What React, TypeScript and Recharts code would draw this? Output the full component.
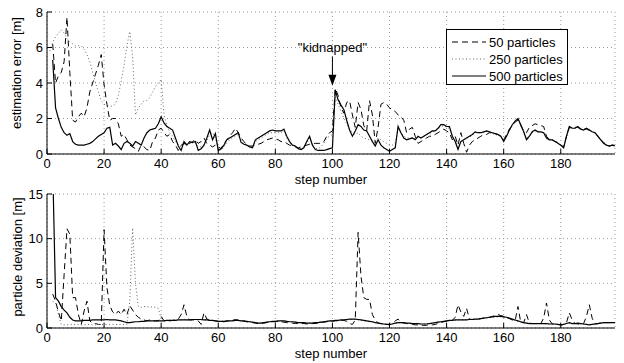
import { CartesianGrid, Label, Line, LineChart, ReferenceDot, XAxis, YAxis } from "recharts";

// x axis: step number 0..199 (steps 0/1 have no value)
const STEPS = Array.from({ length: 200 }, (_, i) => i);
const X_TICKS = [0, 20, 40, 60, 80, 100, 120, 140, 160, 180];
const ERR_TICKS = [0, 2, 4, 6, 8];
const DEV_TICKS = [0, 5, 10, 15];

// estimation error [m], 50 particles
const err50 = [
  null, null, 6.2, 4.0, 4.4, 4.6, 5.2, 7.7, 4.6, 1.9,
  1.8, 2.1, 2.3, 2.1, 2.6, 3.5, 4.0, 4.5, 5.0, 5.6,
  3.9, 2.8, 1.9, 2.0, 2.0, 1.7, 1.0, 1.1, 0.8, 0.5,
  0.4, 0.3, 0.15, 0.5, 0.4, 0.25, 0.2, 0.7, 0.9, 1.35,
  1.45, 1.2, 1.0, 1.1, 0.7, 0.5, 0.2, 0.5, 0.6, 0.5,
  0.6, 0.7, 0.8, 0.6, 0.7, 0.9, 0.6, 0.5, 0.4, 0.5,
  0.4, 0.3, 0.6, 0.8, 1.0, 1.2, 1.45, 1.2, 0.9, 0.7,
  0.5, 0.45, 0.45, 0.5, 0.55, 0.6, 0.7, 0.8, 0.85, 0.9,
  0.85, 0.8, 0.7, 0.7, 0.6, 0.5, 0.45, 0.4, 0.35, 0.4,
  0.45, 0.5, 0.55, 0.55, 0.6, 0.6, 0.6, 0.7, 1.0, 1.2,
  1.3, 3.7, 3.3, 2.6, 2.3, 2.9, 3.0, 2.2, 1.5, 2.9,
  2.5, 1.6, 1.3, 3.0, 2.2, 0.6, 1.5, 2.8, 2.9, 2.8,
  2.6, 2.5, 2.4, 2.2, 2.1, 1.9, 1.2, 1.4, 1.5, 1.0,
  0.6, 0.7, 0.8, 0.9, 1.0, 1.0, 1.1, 1.2, 1.3, 1.4,
  1.3, 1.2, 0.8, 1.0, 0.5, 1.2, 0.6, 0.1, 0.5, 0.7,
  0.8, 0.9, 1.0, 1.1, 1.1, 1.2, 1.2, 1.15, 1.1, 1.0,
  0.8, 1.1, 1.4, 1.6, 1.8, 1.9, 1.6, 1.3, 1.2, 1.5,
  1.6, 1.7, 1.65, 1.6, 1.55, 1.0, 0.8, 0.8, 0.7, 0.65,
  0.5, 0.4, 1.0, 1.5, 1.45, 1.5, 1.5, 1.4, 1.4, 1.4,
  1.35, 1.3, 1.2, 1.0, 0.8, 0.65, 0.55, 0.45, 0.5, 0.5,
];

// estimation error [m], 250 particles
const err250 = [
  null, 5.8, 6.3, 6.6, 6.8, 7.0, 6.8, 6.5, 6.3, 6.2,
  6.1, 6.1, 6.1, 5.9, 5.6, 5.2, 4.6, 4.0, 3.5, 3.0,
  2.8, 2.75, 2.7, 2.7, 2.85, 3.3, 4.1, 5.0, 6.1, 6.9,
  5.5, 2.2, 2.6, 2.8, 3.0, 3.0, 3.2, 3.5, 3.8, 4.0,
  4.2, 2.2, 1.6, 1.2, 1.0, 0.7, 0.5, 0.4, 0.6, 0.6,
  0.7, 0.6, 0.6, 0.4, 0.4, 0.5, 0.7, 1.1, 1.2, 0.9,
  0.3, 0.2, 0.4, 0.6, 0.8, 0.9, 1.0, 1.1, 0.7, 0.6,
  0.5, 0.45, 0.4, 0.7, 0.8, 0.9, 1.0, 1.1, 1.2, 1.2,
  1.2, 1.2, 1.2, 1.3, 0.9, 0.7, 0.5, 0.45, 0.35, 0.3,
  0.4, 0.6, 0.9, 0.5, 0.3, 0.3, 0.4, 0.6, 0.9, 1.0,
  1.1, 3.2, 2.8, 2.4, 2.0, 1.7, 1.4, 1.2, 1.1, 1.2,
  1.0, 0.9, 0.85, 0.8, 0.75, 0.7, 0.9, 0.8, 0.7, 0.6,
  0.5, 0.5, 0.6, 1.4, 1.2, 1.0, 0.9, 0.9, 0.9, 0.85,
  0.95, 0.9, 1.0, 1.1, 1.15, 1.25, 1.3, 1.4, 1.55, 1.6,
  1.5, 1.45, 1.0, 0.8, 0.4, 0.7, 0.8, 0.9, 0.95, 1.05,
  1.2, 1.2, 1.2, 1.2, 1.25, 1.2, 1.15, 1.1, 1.05, 1.0,
  0.8, 1.0, 1.3, 1.6, 1.8, 1.95, 1.6, 1.3, 0.9, 1.0,
  1.2, 1.3, 1.3, 1.2, 1.2, 0.95, 0.85, 0.8, 0.7, 0.6,
  0.5, 0.4, 1.0, 1.5, 1.5, 1.45, 1.5, 1.4, 1.4, 1.4,
  1.3, 1.25, 1.15, 1.0, 0.85, 0.65, 0.5, 0.45, 0.5, 0.45,
];

// estimation error [m], 500 particles
const err500 = [
  null, null, 5.3, 2.6, 2.0, 1.5, 1.2, 1.05, 1.15, 0.7,
  0.55, 0.5, 0.5, 0.5, 0.55, 0.6, 0.7, 0.85, 1.0, 1.1,
  1.2, 1.45, 1.5, 0.5, 0.6, 0.45, 0.25, 0.6, 0.7, 0.6,
  0.45, 0.7, 0.6, 0.5, 0.9, 1.2, 1.35, 1.4, 1.45, 1.7,
  2.1, 1.75, 1.55, 1.45, 1.35, 0.9, 0.45, 0.2, 0.7, 0.5,
  0.7, 0.65, 0.7, 0.2, 0.3, 0.5, 0.9, 1.35, 0.8, 1.15,
  0.2, 0.3, 0.5, 0.8, 0.9, 1.0, 1.1, 1.2, 0.65, 0.55,
  0.5, 0.4, 0.35, 0.8, 0.9, 1.0, 1.1, 1.2, 1.3, 1.35,
  1.3, 1.3, 1.3, 1.4, 1.0, 0.7, 0.5, 0.45, 0.3, 0.25,
  0.35, 0.7, 1.0, 0.5, 0.25, 0.2, 0.2, 0.2, 0.25, 0.3,
  0.35, 3.6, 3.05, 2.75, 2.5, 1.9, 1.35, 1.0, 1.3, 1.65,
  1.55, 1.35, 1.3, 1.0, 0.7, 0.45, 0.8, 0.5, 0.35, 0.25,
  0.15, 0.25, 0.35, 1.55, 1.2, 0.9, 0.8, 0.85, 0.9, 0.8,
  1.0, 0.9, 1.0, 1.1, 1.2, 1.3, 1.3, 1.45, 1.65, 1.65,
  1.55, 1.55, 1.0, 0.7, 0.25, 0.7, 0.8, 0.9, 1.0, 1.1,
  1.25, 1.2, 1.2, 1.25, 1.3, 1.25, 1.2, 1.15, 1.1, 1.0,
  0.7, 1.0, 1.35, 1.65, 1.85, 2.0, 1.65, 1.25, 0.8, 1.0,
  1.25, 1.35, 1.25, 1.25, 1.2, 0.9, 0.8, 0.8, 0.7, 0.6,
  0.5, 0.35, 1.0, 1.55, 1.45, 1.45, 1.55, 1.4, 1.35, 1.45,
  1.35, 1.25, 1.2, 1.0, 0.8, 0.6, 0.5, 0.45, 0.5, 0.45,
];

// particle deviation [m], 50 particles
const dev50 = [
  null, null, 3.8, 3.0, 1.8, 0.8, 6.0, 11.1, 10.5, 3.4,
  3.4, 1.5, 0.4, 1.9, 3.0, 0.8, 0.5, 0.5, 0.4, 0.4,
  11.0, 4.5, 2.5, 1.8, 1.5, 1.9, 1.5, 2.1, 1.5, 2.5,
  2.0, 1.5, 1.2, 1.0, 0.9, 0.8, 0.9, 0.8, 0.8, 0.8,
  1.3, 0.8, 0.8, 0.8, 0.85, 0.9, 1.0, 1.5, 2.6, 1.3,
  0.9, 0.9, 0.9, 0.8, 0.4, 1.7, 1.0, 0.9, 0.85, 0.8,
  0.75, 0.7, 0.7, 0.75, 0.8, 0.85, 0.95, 0.9, 0.8, 0.75,
  0.7, 0.65, 0.6, 0.55, 0.5, 0.5, 0.55, 0.6, 0.65, 0.7,
  0.7, 0.75, 0.7, 0.65, 0.6, 0.55, 0.55, 0.5, 0.5, 0.5,
  0.5, 0.45, 0.45, 0.5, 0.5, 0.55, 0.6, 0.65, 0.7, 0.75,
  0.75, 0.8, 0.8, 0.85, 0.85, 0.75, 0.5, 0.4, 0.9, 10.7,
  5.8, 3.4, 3.2, 3.2, 1.5, 0.9, 0.55, 0.5, 0.45, 0.4,
  0.35, 0.5, 0.8, 1.0, 0.6, 0.55, 0.5, 0.45, 0.4, 0.35,
  0.35, 0.3, 0.3, 0.3, 0.35, 0.35, 0.4, 0.5, 0.6, 0.7,
  0.75, 0.8, 0.85, 1.2, 2.6, 1.8, 1.3, 2.2, 1.0, 0.95,
  1.0, 1.0, 1.05, 1.1, 1.15, 1.2, 1.3, 1.4, 1.5, 1.4,
  1.3, 1.2, 1.05, 0.9, 0.8, 2.4, 0.6, 0.6, 1.5, 0.55,
  0.5, 0.5, 0.5, 0.5, 1.1, 2.8, 0.9, 0.45, 0.45, 0.4,
  0.35, 0.4, 0.6, 1.7, 0.9, 0.5, 0.45, 0.4, 0.5, 1.3,
  2.6, 1.1, 0.45, 0.5, 0.55, 0.6, 0.6, 0.6, 0.6, 0.6,
];

// particle deviation [m], 250 particles
const dev250 = [
  null, null, 3.0, 2.8, 1.5, 0.4, 0.35, 0.35, 0.4, 0.4,
  0.4, 0.4, 0.35, 0.35, 0.4, 0.4, 0.35, 0.35, 0.4, 0.4,
  0.4, 0.4, 0.4, 0.4, 0.4, 0.4, 0.4, 0.4, 0.4, 3.0,
  11.2, 5.0, 2.4, 2.3, 2.4, 2.4, 2.3, 2.4, 2.3, 2.2,
  1.0, 0.85, 0.85, 0.85, 0.9, 0.9, 0.9, 0.9, 0.95, 0.9,
  0.9, 0.9, 0.95, 0.95, 0.9, 0.9, 0.9, 0.85, 0.8, 0.8,
  0.75, 0.75, 0.8, 0.8, 0.85, 0.85, 0.9, 0.85, 0.8, 0.75,
  0.7, 0.7, 0.65, 0.6, 0.6, 0.6, 0.6, 0.65, 0.7, 0.7,
  0.75, 0.75, 0.8, 0.75, 0.75, 0.7, 0.65, 0.65, 0.6, 0.6,
  0.6, 0.55, 0.55, 0.6, 0.6, 0.65, 0.7, 0.7, 0.75, 0.8,
  0.8, 0.8, 0.85, 0.85, 0.9, 0.9, 0.95, 0.95, 0.95, 0.9,
  0.85, 0.8, 0.75, 0.7, 0.65, 0.6, 0.55, 0.5, 0.45, 0.45,
  0.45, 0.5, 0.55, 0.55, 0.6, 0.55, 0.5, 0.5, 0.5, 0.45,
  0.45, 0.45, 0.45, 0.5, 0.5, 0.55, 0.6, 0.65, 0.7, 0.75,
  0.8, 0.8, 0.85, 0.85, 0.9, 0.9, 0.9, 0.95, 0.95, 0.95,
  1.0, 1.0, 1.05, 1.1, 1.1, 1.15, 1.2, 1.2, 1.25, 1.25,
  1.2, 1.15, 1.05, 0.95, 0.85, 0.75, 0.65, 0.6, 0.55, 0.5,
  0.5, 0.5, 0.5, 0.5, 0.5, 0.45, 0.45, 0.45, 0.4, 0.4,
  0.35, 0.4, 0.5, 0.55, 0.5, 0.5, 0.5, 0.45, 0.45, 0.4,
  0.4, 0.4, 0.45, 0.5, 0.55, 0.55, 0.6, 0.6, 0.6, 0.6,
];

// particle deviation [m], 500 particles (step 2 runs off the top)
const dev500 = [
  null, null, 18, 3.4, 3.0, 2.4, 2.0, 1.7, 1.2, 0.9,
  0.8, 0.8, 0.8, 0.85, 0.85, 0.85, 0.9, 0.9, 0.9, 0.9,
  0.9, 0.95, 0.9, 0.9, 0.9, 0.85, 0.8, 0.7, 0.6, 0.6,
  0.65, 0.7, 0.7, 0.75, 0.75, 0.8, 0.8, 0.8, 0.8, 0.8,
  0.8, 0.8, 0.85, 0.85, 0.85, 0.85, 0.9, 0.9, 0.9, 0.9,
  0.9, 0.95, 0.95, 0.95, 0.95, 0.9, 0.9, 0.85, 0.85, 0.8,
  0.75, 0.75, 0.75, 0.8, 0.8, 0.8, 0.85, 0.85, 0.8, 0.8,
  0.75, 0.7, 0.65, 0.6, 0.55, 0.55, 0.6, 0.65, 0.7, 0.75,
  0.75, 0.8, 0.8, 0.8, 0.75, 0.7, 0.7, 0.65, 0.6, 0.6,
  0.6, 0.55, 0.55, 0.55, 0.6, 0.6, 0.65, 0.7, 0.75, 0.8,
  0.8, 0.85, 0.85, 0.9, 0.9, 0.95, 1.0, 1.0, 1.0, 0.95,
  0.9, 0.85, 0.8, 0.75, 0.7, 0.6, 0.55, 0.5, 0.45, 0.4,
  0.4, 0.45, 0.55, 0.6, 0.6, 0.6, 0.55, 0.55, 0.5, 0.5,
  0.5, 0.45, 0.45, 0.45, 0.5, 0.55, 0.6, 0.65, 0.7, 0.75,
  0.8, 0.85, 0.85, 0.9, 0.9, 0.9, 0.9, 0.9, 0.95, 0.95,
  1.0, 1.0, 1.05, 1.1, 1.15, 1.2, 1.25, 1.3, 1.3, 1.3,
  1.25, 1.2, 1.1, 1.0, 0.9, 0.8, 0.7, 0.6, 0.55, 0.5,
  0.5, 0.5, 0.5, 0.5, 0.5, 0.5, 0.45, 0.45, 0.45, 0.4,
  0.35, 0.4, 0.5, 0.6, 0.5, 0.5, 0.55, 0.5, 0.45, 0.4,
  0.35, 0.4, 0.45, 0.5, 0.55, 0.6, 0.6, 0.6, 0.6, 0.6,
];

const SERIES = [
  { key: "p50", name: "50 particles", dash: "6 4", color: "#000", width: 1 },
  { key: "p250", name: "250 particles", dash: "1 2.5", color: "#666", width: 1 },
  { key: "p500", name: "500 particles", dash: undefined, color: "#000", width: 1.2 },
];

const FONT = '"Liberation Sans", Arial, Helvetica, sans-serif';

const topData = STEPS.map((s) => ({ step: s, p50: err50[s], p250: err250[s], p500: err500[s] }));
const bottomData = STEPS.map((s) => ({ step: s, p50: dev50[s], p250: dev250[s], p500: dev500[s] }));

const tickStyle = { fill: "#000", fontSize: 13, fontFamily: FONT };

const KidnapArrow = (props: any) => {
  const { cx, cy } = props;
  if (cx == null || cy == null) return null;
  return (
    <g>
      <text x={cx} y={cy - 34} textAnchor="middle" fontSize={13} fontFamily={FONT} fill="#000">
        "kidnapped"
      </text>
      <line x1={cx} y1={cy - 29} x2={cx} y2={cy - 9} stroke="#000" strokeWidth={1} />
      <polygon points={`${cx - 4},${cy - 11} ${cx + 4},${cy - 11} ${cx},${cy}`} fill="#000" />
    </g>
  );
};

const Legend = () => (
  <div
    style={{
      position: "absolute",
      left: 446,
      top: 29,
      width: 122,
      height: 56,
      border: "1px solid #000",
      background: "#fff",
      boxSizing: "border-box",
    }}
  >
    <svg width={120} height={54} style={{ display: "block" }}>
      {SERIES.map((s, i) => (
        <g key={s.key}>
          <line
            x1={5}
            x2={39}
            y1={12 + i * 17}
            y2={12 + i * 17}
            stroke={s.color}
            strokeWidth={s.width}
            strokeDasharray={s.dash}
          />
          <text x={42} y={16.5 + i * 17} fontSize={13} fontFamily={FONT} fill="#000">
            {s.name}
          </text>
        </g>
      ))}
    </svg>
  </div>
);

const Panel = ({ data, height, marginTop, xHeight, titleOffset, ticks, domain, annotate }: any) => (
  <LineChart
    width={624}
    height={height}
    data={data}
    margin={{ top: marginTop, right: 9, bottom: 0, left: 0 }}
  >
    <CartesianGrid stroke="#999" strokeDasharray="1 3" />
    <XAxis
      dataKey="step"
      type="number"
      domain={[0, 199]}
      ticks={X_TICKS}
      height={xHeight}
      tick={tickStyle}
      tickSize={-5}
      tickMargin={10}
      stroke="#000"
      interval={0}
    >
      <Label
        value="step number"
        position="insideBottom"
        offset={titleOffset}
        fill="#000"
        fontSize={13}
        fontFamily={FONT}
      />
    </XAxis>
    <XAxis
      xAxisId="top"
      orientation="top"
      dataKey="step"
      type="number"
      domain={[0, 199]}
      ticks={X_TICKS}
      height={0}
      tick={false}
      tickSize={-5}
      stroke="#000"
    />
    <YAxis
      type="number"
      domain={domain}
      ticks={ticks}
      width={47}
      tick={tickStyle}
      tickSize={-5}
      tickMargin={9}
      stroke="#000"
      allowDataOverflow
      interval={0}
    />
    <YAxis
      yAxisId="right"
      orientation="right"
      type="number"
      domain={domain}
      ticks={ticks}
      width={0}
      tick={false}
      tickSize={-5}
      stroke="#000"
    />
    {SERIES.map((s) => (
      <Line
        key={s.key}
        dataKey={s.key}
        name={s.name}
        stroke={s.color}
        strokeWidth={s.width}
        strokeDasharray={s.dash}
        dot={false}
        activeDot={false}
        isAnimationActive={false}
        type="linear"
      />
    ))}
    {annotate && <ReferenceDot x={100} y={3.85} r={0} shape={KidnapArrow} ifOverflow="visible" />}
  </LineChart>
);

const yTitleStyle: any = {
  position: "absolute",
  fontFamily: FONT,
  fontSize: 13,
  color: "#000",
  whiteSpace: "nowrap",
  lineHeight: "14px",
  transform: "translate(-50%, -50%) rotate(-90deg)",
};

export default function App() {
  return (
    <div style={{ position: "relative", width: 624, height: 363, background: "#fff", overflow: "hidden" }}>
      <style>{"body{margin:0;background:#fff}"}</style>
      <div style={{ position: "absolute", left: 0, top: 0 }}>
        <Panel
          data={topData}
          height={190}
          marginTop={12}
          xHeight={36}
          titleOffset={6}
          ticks={ERR_TICKS}
          domain={[0, 8]}
          annotate
        />
      </div>
      <div style={{ position: "absolute", left: 0, top: 185 }}>
        <Panel
          data={bottomData}
          height={178}
          marginTop={9}
          xHeight={35}
          titleOffset={5}
          ticks={DEV_TICKS}
          domain={[0, 15]}
        />
      </div>
      <Legend />
      <div style={{ ...yTitleStyle, left: 17, top: 73 }}>estimation error [m]</div>
      <div style={{ ...yTitleStyle, left: 18, top: 257 }}>particle deviation [m]</div>
    </div>
  );
}
